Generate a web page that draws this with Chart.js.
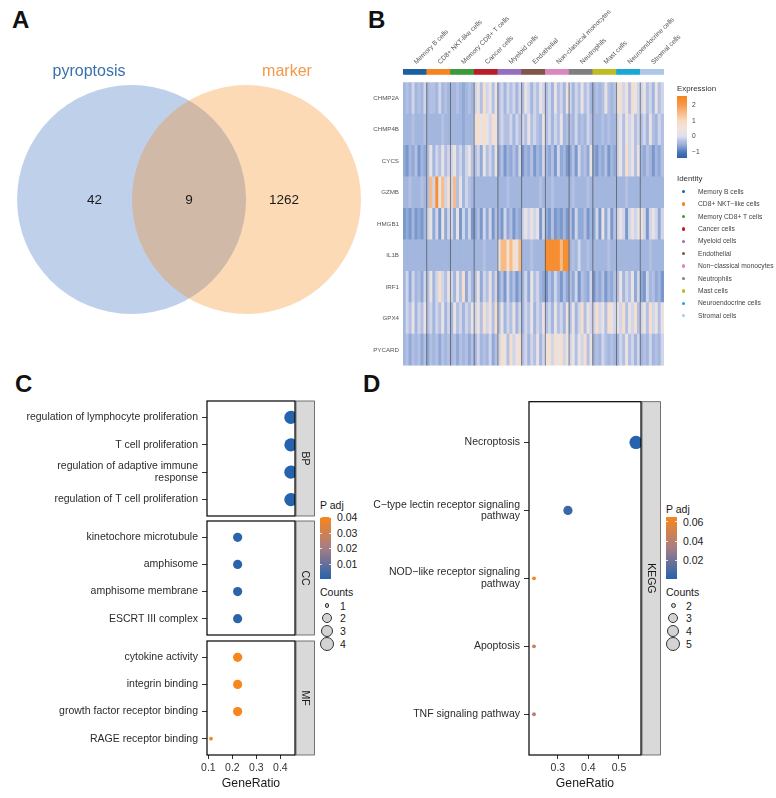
<!DOCTYPE html>
<html>
<head>
<meta charset="utf-8">
<title>Pyroptosis markers</title>
<script src="https://cdn.jsdelivr.net/npm/chart.js@4.4.1/dist/chart.umd.min.js"></script>
<style>
  html, body { margin: 0; padding: 0; background: #fff; }
  #page { position: relative; width: 776px; height: 798px; overflow: hidden;
          font-family: 'Liberation Sans', Arial, sans-serif; }
  #page canvas { position: absolute; }
  .t { position: absolute; white-space: nowrap; }
  .letter { position: absolute; font-size: 24px; line-height: 24px; font-weight: bold; color: #111; }
</style>
</head>
<body>
<div id="page">
  <div class="letter" style="left:12px;top:8px">A</div>
  <div class="letter" style="left:368px;top:8px">B</div>
  <div class="letter" style="left:15px;top:372px">C</div>
  <div class="letter" style="left:363px;top:372px">D</div>

  <canvas id="venn" width="380" height="310" style="left:0;top:45px"></canvas>
  <canvas id="heat" width="360" height="370" style="left:330px;top:0"></canvas>
  <canvas id="goBP" width="316" height="117" style="left:0;top:400px"></canvas>
  <canvas id="goCC" width="316" height="116" style="left:0;top:520px"></canvas>
  <canvas id="goMF" width="316" height="156" style="left:0;top:640px"></canvas>
  <canvas id="kegg" width="302" height="395" style="left:360px;top:400px"></canvas>
</div>
<script>
/* ---------- data ---------- */

// A: Venn
const vennSets = ['pyroptosis', 'marker'];
const vennColors = ['#2a62b8', '#f8840c'];
const vennCounts = [42, 9, 1262];   // pyroptosis only, both, marker only

// B: heatmap
const clusters = ['Memory B cells', 'CD8+ NKT-like cells', 'Memory CD8+ T cells', 'Cancer cells',
  'Myeloid cells', 'Endothelial', 'Non-classical monocytes', 'Neutrophils', 'Mast cells',
  'Neuroendocrine cells', 'Stromal cells'];
const clusterColors = ['#1d5fa3', '#f5831f', '#3d9a3a', '#b91f2a', '#9470bd', '#7e5546',
  '#da87c0', '#7f7f7f', '#bdbd22', '#1aa6d6', '#aec7e8'];
const genes = ['CHMP2A', 'CHMP4B', 'CYCS', 'GZMB', 'HMGB1', 'IL1B', 'IRF1', 'GPX4', 'PYCARD'];
// one digit per cell column (level index into exprLevels), one group per cluster
const exprRows = [
  '34353435 34435343 33432343 56475646 45354535 46535465 45364536 53546453 34346434 67564765 56453645',
  '33343334 33333433 33332333 67676576 45445354 54645436 45354634 43534354 33343433 56465645 45364354',
  '21324132 46354645 56453564 45264536 24132425 13241325 32415231 24153426 21324132 56475646 32431324',
  '33433343 48596857 58463543 33333333 33343333 33333343 33433333 34333343 33333333 33343333 33333333',
  '12131213 56251625 52615251 24152514 31524132 56565615 21412131 41522413 25162514 56515656 65156525',
  '33333333 33333333 33333333 33343333 68878768 33343333 99999899 34353343 33333433 33333333 33343333',
  '35253425 46357546 53647253 46254635 24152413 35264532 14253142 42514325 13241324 46354625 21534231',
  '35463546 45354635 36453546 56475647 46354635 35463546 45364536 46357465 57564765 65746574 56475646',
  '34243424 24342434 34243424 35343524 57647567 45354635 67576756 56465746 34354343 35464535 34353435'
];
const exprLevels = [-0.85, -0.72, -0.58, -0.45, -0.3, -0.1, 0.3, 0.8, 1.5, 2.3];
const exprTicks = [2, 1, 0, -1];

// C: GO enrichment
const bpTerms = ['regulation of lymphocyte proliferation', 'T cell proliferation',
  'regulation of adaptive immune\nresponse', 'regulation of T cell proliferation'];
const bpRatio = [0.444, 0.444, 0.444, 0.444];
const bpCounts = [4, 4, 4, 4];
const bpPadj = [0.0004, 0.0004, 0.0004, 0.0004];

const ccTerms = ['kinetochore microtubule', 'amphisome', 'amphisome membrane', 'ESCRT III complex'];
const ccRatio = [0.222, 0.222, 0.222, 0.222];
const ccCounts = [2, 2, 2, 2];
const ccPadj = [0.0012, 0.0012, 0.0012, 0.0012];

const mfTerms = ['cytokine activity', 'integrin binding', 'growth factor receptor binding', 'RAGE receptor binding'];
const mfRatio = [0.222, 0.222, 0.222, 0.111];
const mfCounts = [2, 2, 2, 1];
const mfPadj = [0.0404, 0.0404, 0.0404, 0.0404];

const goXTicks = [0.1, 0.2, 0.3, 0.4];
const goPadjTicks = [0.04, 0.03, 0.02, 0.01];
const goCountLevels = [1, 2, 3, 4];

// D: KEGG enrichment
const keggTerms = ['Necroptosis', 'C\u2212type lectin receptor signaling\npathway',
  'NOD\u2212like receptor signaling\npathway', 'Apoptosis', 'TNF signaling pathway'];
const keggRatio = [0.556, 0.333, 0.222, 0.222, 0.222];
const keggCounts = [5, 3, 2, 2, 2];
const keggPadj = [0.0005, 0.006, 0.0652, 0.046, 0.040];
const keggXTicks = [0.3, 0.4, 0.5];
const keggPadjTicks = [0.06, 0.04, 0.02];
const keggCountLevels = [2, 3, 4, 5];

/* ---------- helpers ---------- */
Chart.defaults.font.family = "'Liberation Sans', Arial, sans-serif";
Chart.defaults.animation = false;
Chart.defaults.responsive = false;
Chart.defaults.events = [];
Chart.defaults.layout.autoPadding = false;
Chart.defaults.plugins.legend.display = false;
Chart.defaults.plugins.tooltip.enabled = false;

const page = document.getElementById('page');

const exprStops = [
  [-1.38, [46, 95, 166]], [-1, [79, 120, 184]], [-0.5, [157, 178, 220]], [-0.3, [180, 192, 227]],
  [0, [222, 224, 237]], [0.5, [241, 228, 219]], [1, [247, 218, 192]], [1.5, [248, 187, 134]],
  [2, [247, 154, 74]], [2.58, [246, 132, 28]]
];
const padjStops = [[0, [37, 99, 172]], [0.5, [166, 125, 134]], [1, [247, 134, 29]]];

function lerpStops(stops, v) {
  if (v <= stops[0][0]) return stops[0][1];
  for (let i = 1; i < stops.length; i++) {
    if (v <= stops[i][0]) {
      const [a, ca] = stops[i - 1], [b, cb] = stops[i];
      const t = (v - a) / (b - a);
      return ca.map((c, k) => Math.round(c + (cb[k] - c) * t));
    }
  }
  return stops[stops.length - 1][1];
}
const rgb = c => `rgb(${c[0]},${c[1]},${c[2]})`;
const exprColor = v => rgb(lerpStops(exprStops, v));
const padjColor = (p, lo, hi) => rgb(lerpStops(padjStops, (p - lo) / (hi - lo)));

function hexA(hex, a) {
  const n = parseInt(hex.slice(1), 16);
  return `rgba(${n >> 16},${(n >> 8) & 255},${n & 255},${a})`;
}

// text placed by its cap-height centre
function addText(txt, left, cy, size, color, center) {
  const d = document.createElement('div');
  d.className = 't';
  d.textContent = txt;
  d.style.cssText += `left:${left}px;top:${cy - size * 0.59}px;font-size:${size}px;` +
    `line-height:${size * 1.2}px;color:${color};` + (center ? 'transform:translateX(-50%);' : '');
  page.appendChild(d);
  return d;
}
function addBox(css) {
  const d = document.createElement('div');
  d.className = 't';
  d.style.cssText += css;
  page.appendChild(d);
  return d;
}

/* ---------- A: Venn ---------- */
const vennLabels = {
  id: 'vennLabels',
  afterDatasetsDraw(chart) {
    const { ctx, scales: { x, y } } = chart;
    ctx.save();
    ctx.fillStyle = '#1a1a1a';
    ctx.font = "13.5px 'Liberation Sans', Arial";
    ctx.textAlign = 'center';
    ctx.textBaseline = 'middle';
    [-0.825, 0, 0.83].forEach((px, i) => ctx.fillText(vennCounts[i], x.getPixelForValue(px), y.getPixelForValue(0) + 1));
    ctx.restore();
  }
};

// circle radius = one x unit in pixels
const unitRadius = ctx => {
  const x = ctx.chart.scales.x;
  return x ? Math.abs(x.getPixelForValue(1) - x.getPixelForValue(0)) : 0;
};

new Chart(document.getElementById('venn'), {
  type: 'scatter',
  data: {
    datasets: vennSets.map((s, i) => ({
      label: s,
      data: [{ x: i === 0 ? -0.502 : 0.502, y: 0 }],
      backgroundColor: hexA(vennColors[i], 0.3),
      pointBackgroundColor: hexA(vennColors[i], 0.3),
      pointBorderWidth: 0,
      pointRadius: unitRadius,
      order: i === 0 ? 1 : 0,
      clip: false
    }))
  },
  options: {
    layout: { padding: 0 },
    scales: {
      x: { display: false, min: -1.651, max: 1.668 },
      y: { display: false, min: -1.358, max: 1.349 }
    }
  },
  plugins: [vennLabels]
});
addText(vennSets[0], 89, 70.5, 16, '#3a6fae', true);
addText(vennSets[1], 287, 70.5, 16, '#f2994a', true);

/* ---------- B: heatmap ---------- */
const colCluster = [];
exprRows[0].split(' ').forEach((g, ci) => { for (let k = 0; k < g.length; k++) colCluster.push(ci); });
const exprCols = exprRows.map(r => r.replace(/ /g, '').split('').map(ch => exprLevels[+ch]));
const clusterStart = clusters.map((c, ci) => colCluster.indexOf(ci));
const clusterEnd = clusters.map((c, ci) => colCluster.lastIndexOf(ci));

const clusterLines = {
  id: 'clusterLines',
  afterDatasetsDraw(chart) {
    const { ctx, scales: { x, y } } = chart;
    ctx.save();
    ctx.strokeStyle = 'rgba(60,60,60,0.75)';
    ctx.lineWidth = 0.8;
    clusterStart.slice(1).forEach(s => {
      const px = x.getPixelForValue(s - 0.5);
      ctx.beginPath();
      ctx.moveTo(px, y.getPixelForValue(genes.length));
      ctx.lineTo(px, y.getPixelForValue(0));
      ctx.stroke();
    });
    ctx.restore();
  }
};

new Chart(document.getElementById('heat'), {
  type: 'bar',
  data: {
    labels: colCluster.map((c, i) => i),
    datasets: [
      ...genes.map((g, gi) => ({
        label: g,
        data: colCluster.map(() => 1),
        backgroundColor: exprCols[gi].map(exprColor)
      })).reverse(),
      { label: 'gap', data: colCluster.map(() => 0.26), backgroundColor: 'rgba(0,0,0,0)' },
      { label: 'Identity', data: colCluster.map(() => 0.17), backgroundColor: colCluster.map(c => clusterColors[c]) }
    ]
  },
  options: {
    layout: { padding: { left: 0, right: 26, top: 0, bottom: 4.4 } },
    datasets: { bar: { barPercentage: 1, categoryPercentage: 1, borderWidth: 0 } },
    scales: {
      x: {
        stacked: true, position: 'top',
        grid: { display: false, drawTicks: false }, border: { display: false },
        // label anchored just right of each cluster centre
        afterBuildTicks: s => { s.ticks = clusters.map((c, ci) => ({ value: (clusterStart[ci] + clusterEnd[ci]) / 2 + 2 })); },
        afterFit: s => { s.height = 69; s.paddingLeft = 0; s.paddingRight = 0; },
        ticks: {
          autoSkip: false, minRotation: 45, maxRotation: 45, padding: 3,
          font: { size: 6.7 }, color: '#555', callback: (v, i) => clusters[i]
        }
      },
      y: {
        stacked: true, min: 0, max: 9.43,
        grid: { display: false, drawTicks: false }, border: { display: false },
        afterBuildTicks: s => { s.ticks = genes.map((g, i) => ({ value: genes.length - 0.5 - i })); },
        afterFit: s => { s.width = 73; s.paddingTop = 0; s.paddingBottom = 0; },
        ticks: { autoSkip: false, padding: 4, font: { size: 6.2 }, color: '#555', callback: (v, i) => genes[i] }
      }
    }
  },
  plugins: [clusterLines]
});

// expression colour bar and identity legend
(function () {
  const top = 96, h = 62, vTop = 2.58, vBot = -1.38;
  const stops = exprStops.map(([v, c]) => `${rgb(c)} ${((v - vBot) / (vTop - vBot) * 100).toFixed(1)}%`);
  addText('Expression', 677, 89, 7.9, '#333');
  addBox(`left:677px;top:${top}px;width:10px;height:${h}px;background:linear-gradient(to top, ${stops.join(',')});`);
  exprTicks.forEach(v => {
    const y = top + (vTop - v) / (vTop - vBot) * h;
    addText(v < 0 ? '\u2212' + Math.abs(v) : String(v), 692, y, 6.7, '#444');
  });
  addText('Identity', 677, 179, 7.9, '#333');
  clusters.forEach((c, i) => {
    const y = 191.7 + i * 12.4;
    addBox(`left:681.5px;top:${y - 1.7}px;width:3.4px;height:3.4px;border-radius:50%;background:${clusterColors[i]};`);
    addText(c.replace('-', '\u2212'), 698, y, 6.7, '#444');
  });
})();

/* ---------- C / D: dot plots ---------- */
const facetPlugin = {
  id: 'facet',
  afterDraw(chart, args, opts) {
    const a = chart.chartArea, c = chart.ctx;
    c.save();
    c.fillStyle = '#d9d9d9';
    c.fillRect(a.right + 1, a.top, 18.5, a.bottom - a.top);
    c.strokeStyle = '#555';
    c.lineWidth = 0.8;
    c.strokeRect(a.right + 1, a.top, 18.5, a.bottom - a.top);
    c.strokeStyle = '#000';
    c.lineWidth = 1.2;
    c.strokeRect(a.left, a.top, a.right - a.left, a.bottom - a.top);
    c.translate(a.right + 10.25, (a.top + a.bottom) / 2);
    c.rotate(Math.PI / 2);
    c.fillStyle = '#1a1a1a';
    c.font = "10.5px 'Liberation Sans', Arial";
    c.textAlign = 'center';
    c.textBaseline = 'middle';
    c.fillText(opts.label, 0, 0);
    c.restore();
  }
};

function dotChart(id, terms, ratio, counts, padj, o) {
  return new Chart(document.getElementById(id), {
    type: 'scatter',
    data: {
      datasets: [{
        data: terms.map((t, i) => ({ x: ratio[i], y: i })),
        pointRadius: counts.map(c => o.radius[o.levels.indexOf(c)]),
        pointBackgroundColor: padj.map(p => padjColor(p, o.pmin, o.pmax)),
        pointBorderWidth: 0,
        clip: 0
      }]
    },
    options: {
      layout: { padding: o.padding, autoPadding: false },
      plugins: { facet: { label: o.strip } },
      scales: {
        x: {
          type: 'linear', min: o.xmin, max: o.xmax, display: o.showX,
          afterBuildTicks: s => { s.ticks = o.xTicks.map(v => ({ value: v })); },
          afterFit: s => { if (o.showX) s.height = 40; s.paddingLeft = 0; s.paddingRight = 0; },
          grid: { drawOnChartArea: false, tickLength: 4, color: '#333' },
          border: { display: false },
          ticks: { color: '#333', font: { size: 10.5 }, padding: 3, callback: v => v.toFixed(1) },
          title: { display: true, text: 'GeneRatio', color: '#1a1a1a', font: { size: 12.2 }, padding: { top: 2, bottom: 4 } }
        },
        y: {
          type: 'linear', reverse: true, min: -0.6, max: terms.length - 0.4,
          afterBuildTicks: s => { s.ticks = terms.map((t, i) => ({ value: i })); },
          afterFit: s => { s.width = o.yWidth; s.paddingTop = 0; s.paddingBottom = 0; },
          grid: { drawOnChartArea: false, tickLength: 5, color: '#333' },
          border: { display: false },
          ticks: { autoSkip: false, color: '#2b2b2b', font: { size: 10.5, lineHeight: 1.1 }, padding: 4,
                   callback: v => terms[v].split('\n') }
        }
      }
    },
    plugins: [facetPlugin]
  });
}

const goRadius = [1.9, 4.6, 5.6, 6.6];
const goOpt = { radius: goRadius, levels: goCountLevels, pmin: 0.0004, pmax: 0.0404,
  xmin: 0.0944, xmax: 0.4611, xTicks: goXTicks, yWidth: 207 };
dotChart('goBP', bpTerms, bpRatio, bpCounts, bpPadj,
  Object.assign({}, goOpt, { strip: 'BP', showX: false, padding: { top: 1, bottom: 1, right: 21, left: 0 } }));
dotChart('goCC', ccTerms, ccRatio, ccCounts, ccPadj,
  Object.assign({}, goOpt, { strip: 'CC', showX: false, padding: { top: 1, bottom: 1, right: 21, left: 0 } }));
dotChart('goMF', mfTerms, mfRatio, mfCounts, mfPadj,
  Object.assign({}, goOpt, { strip: 'MF', showX: true, padding: { top: 1, bottom: 1, right: 21, left: 0 } }));

const keggRadius = [1.9, 4.6, 5.6, 6.6];
dotChart('kegg', keggTerms, keggRatio, keggCounts, keggPadj, {
  radius: keggRadius, levels: keggCountLevels, pmin: 0.0005, pmax: 0.0652,
  xmin: 0.2056, xmax: 0.5722, xTicks: keggXTicks, yWidth: 169,
  strip: 'KEGG', showX: true, padding: { top: 1.7, bottom: 0, right: 21, left: 0 }
});

// legends for the dot plots
function padjLegend(left, titleY, barTop, barH, pmin, pmax, ticks, textLeft) {
  addText('P adj', left, titleY, 10.5, '#1a1a1a');
  const grad = padjStops.map(([t, c]) => `${rgb(c)} ${t * 100}%`).join(',');
  addBox(`left:${left}px;top:${barTop}px;width:11px;height:${barH}px;background:linear-gradient(to top, ${grad});`);
  ticks.forEach(v => {
    const y = barTop + (pmax - v) / (pmax - pmin) * barH;
    addBox(`left:${left}px;top:${y - 0.5}px;width:2.2px;height:1px;background:rgba(255,255,255,0.8);`);
    addBox(`left:${left + 8.8}px;top:${y - 0.5}px;width:2.2px;height:1px;background:rgba(255,255,255,0.8);`);
    addText(v.toFixed(2), textLeft, y, 10.5, '#1a1a1a');
  });
}
function countLegend(left, cx, textLeft, titleY, levels, radii, keyY) {
  addText('Counts', left, titleY, 10.5, '#1a1a1a');
  levels.forEach((lv, i) => {
    const r = radii[i] + 0.5;
    addBox(`left:${cx - r}px;top:${keyY[i] - r}px;width:${2 * r}px;height:${2 * r}px;border-radius:50%;` +
      'background:#d3d3d3;border:0.9px solid #333;box-sizing:border-box;');
    addText(String(lv), textLeft, keyY[i], 10.5, '#1a1a1a');
  });
}
padjLegend(320, 505, 517, 62, 0.0004, 0.0404, goPadjTicks, 337);
countLegend(320, 327, 340, 592, goCountLevels, goRadius, [605.7, 618, 630.7, 644.3]);
padjLegend(666, 509, 517, 62, 0.0005, 0.0652, keggPadjTicks, 683);
countLegend(666, 673.3, 686, 592, keggCountLevels, keggRadius, [605.7, 618, 630.7, 644.3]);
</script>
</body>
</html>
